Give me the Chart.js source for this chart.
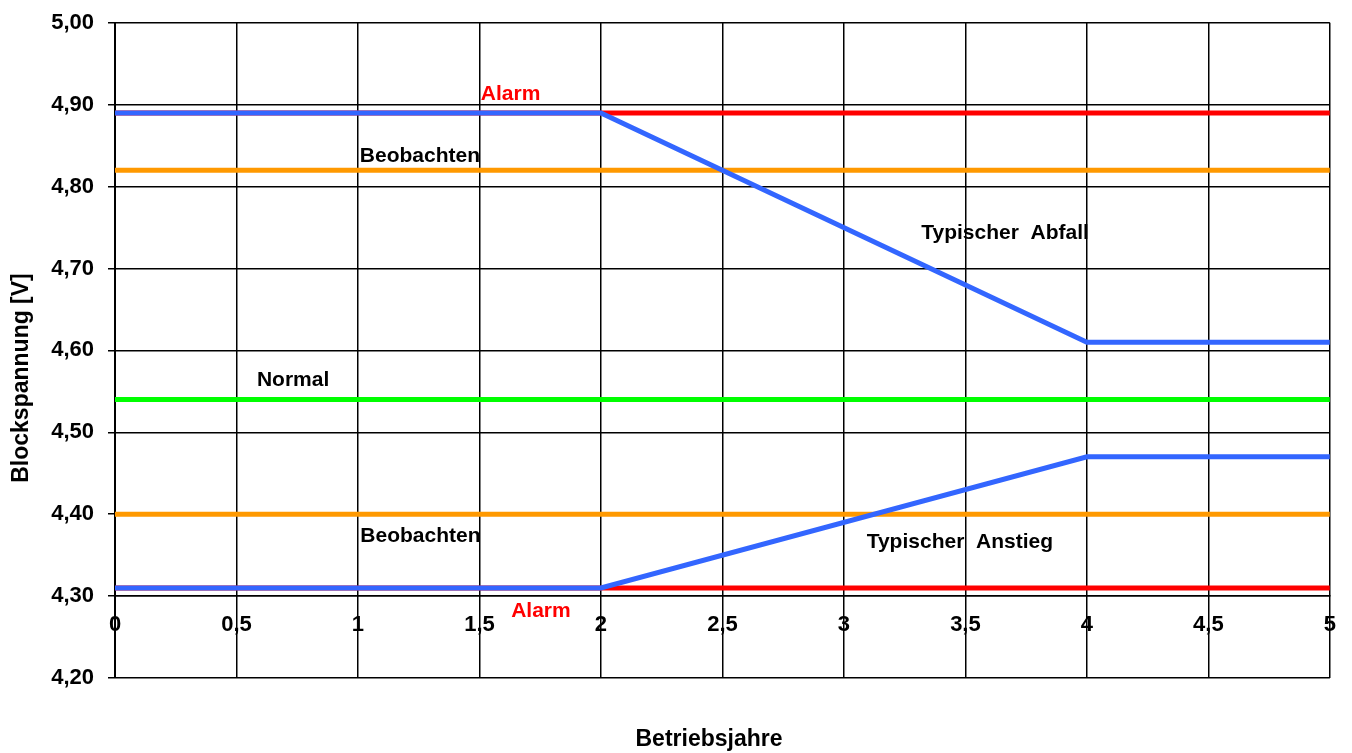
<!DOCTYPE html>
<html>
<head>
<meta charset="utf-8">
<script src="https://cdn.jsdelivr.net/npm/chart.js@4"></script>
<style>
  body { margin: 0; background: #fff; }
  canvas { display: block; }
</style>
</head>
<body>
<canvas id="spannungChart" width="1352" height="753"></canvas>
<script>
// Werte
const linienJahre = [0, 5];
const alarmOben = [4.89, 4.89];
const beobachtenOben = [4.82, 4.82];
const normal = [4.54, 4.54];
const beobachtenUnten = [4.40, 4.40];
const alarmUnten = [4.31, 4.31];

const verlaufJahre = [0, 2, 4, 5];
const typischerAbfall = [4.89, 4.89, 4.61, 4.61];
const typischerAnstieg = [4.31, 4.31, 4.47, 4.47];

// Beschriftungen im Diagramm (Position in Achsenwerten)
const textInhalt = ['Alarm', 'Beobachten', 'Normal', 'Typischer  Abfall', 'Beobachten', 'Typischer  Anstieg', 'Alarm'];
const textJahr = [1.628, 1.255, 0.733, 3.663, 1.257, 3.477, 1.753];
const textWert = [4.913, 4.837, 4.563, 4.743, 4.373, 4.366, 4.281];
const textFarbe = ['#ff0000', '#000', '#000', '#000', '#000', '#000', '#ff0000'];

const schrift = '"Liberation Sans", Arial, sans-serif';

function punkte(xs, ys) {
    return xs.map((x, i) => ({ x: x, y: ys[i] }));
}

function linie(xs, ys, farbe) {
    return {
        data: punkte(xs, ys),
        borderColor: farbe,
        borderWidth: 5,
        pointRadius: 0,
        fill: false,
        tension: 0
    };
}

// Texte im Diagramm und Achsentitel
const beschriftungen = {
    id: 'beschriftungen',
    afterDatasetsDraw(chart) {
        const c = chart.ctx;
        const sx = chart.scales.x;
        const sy = chart.scales.y;
        c.save();
        c.font = 'bold 21px ' + schrift;
        c.textAlign = 'center';
        c.textBaseline = 'middle';
        for (let i = 0; i < textInhalt.length; i++) {
            c.fillStyle = textFarbe[i];
            c.fillText(textInhalt[i], sx.getPixelForValue(textJahr[i]), sy.getPixelForValue(textWert[i]));
        }
        c.fillStyle = '#000';
        c.font = 'bold 23px ' + schrift;
        c.fillText('Betriebsjahre', 709, 740);
        c.translate(22, 378);
        c.rotate(-Math.PI / 2);
        c.fillText('Blockspannung [V]', 0, 0);
        c.restore();
    }
};

const ctx = document.getElementById('spannungChart').getContext('2d');
const spannungChart = new Chart(ctx, {
    type: 'line',
    data: {
        datasets: [
            linie(verlaufJahre, typischerAbfall, '#3366ff'),
            linie(verlaufJahre, typischerAnstieg, '#3366ff'),
            linie(linienJahre, alarmOben, '#ff0000'),
            linie(linienJahre, beobachtenOben, '#ff9900'),
            linie(linienJahre, normal, '#00ff00'),
            linie(linienJahre, beobachtenUnten, '#ff9900'),
            linie(linienJahre, alarmUnten, '#ff0000')
        ]
    },
    options: {
        responsive: false,
        animation: false,
        devicePixelRatio: 1,
        layout: { padding: { top: 22, right: 22, bottom: 75, left: 0 } },
        plugins: {
            legend: { display: false },
            tooltip: { enabled: false }
        },
        scales: {
            x: {
                type: 'linear',
                min: 0,
                max: 5,
                position: { y: 4.3 },
                ticks: {
                    stepSize: 0.5,
                    padding: 16,
                    color: '#000',
                    font: { family: schrift, size: 22, weight: 'bold' },
                    callback: (v) => String(v).replace('.', ',')
                },
                grid: { color: '#000', lineWidth: 1.5, drawTicks: false },
                border: { color: '#000', width: 1.5 }
            },
            y: {
                min: 4.2,
                max: 5.0,
                ticks: {
                    stepSize: 0.1,
                    padding: 14,
                    color: '#000',
                    font: { family: schrift, size: 22, weight: 'bold', lineHeight: 0.8 },
                    callback: (v) => v.toFixed(2).replace('.', ',')
                },
                grid: { color: '#000', lineWidth: 1.5, tickLength: 7 },
                border: { color: '#000', width: 2 },
                afterFit: (scale) => { scale.width = 115; }
            }
        }
    },
    plugins: [beschriftungen]
});
</script>
</body>
</html>
